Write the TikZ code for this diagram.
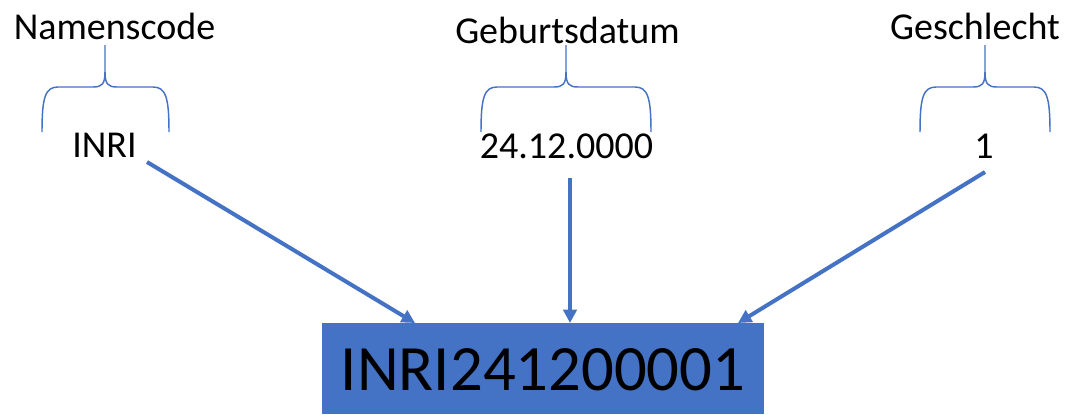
\documentclass[tikz,border=0pt]{standalone}
\usepackage{fontspec}
\setmainfont{Carlito}
\usetikzlibrary{arrows.meta}
\definecolor{accent}{HTML}{4472C4}
\tikzset{
  lbl/.style={anchor=base, inner sep=0pt, font=\fontsize{28.5}{30}\selectfont},
  brc/.style={draw=accent, line width=1.1pt},
  arr/.style={draw=accent, line width=3pt, -{Triangle[length=10pt,width=10pt]}},
  idbox/.style={fill=accent, inner sep=0pt, minimum width=442*0.75pt, minimum height=91*0.75pt}
}
\newcommand\drawbrc[3]{%
  \draw[brc] (#1,132) .. controls (#1,98) and (#1+3,87) .. (#1+16,87) -- (#2-12,87) .. controls (#2-3,87) and (#2,84) .. (#2,72) -- (#2,45);
  \draw[brc] (#3,132) .. controls (#3,98) and (#3-3,87) .. (#3-16,87) -- (#2+12,87) .. controls (#2+3,87) and (#2,84) .. (#2,72);
}
\begin{document}
\begin{tikzpicture}[x=0.75pt,y=-0.75pt]
\useasboundingbox (0,0) rectangle (1067,414);
% headings
\node[lbl] (h1) at (114.5,39) {Namenscode};
\node[lbl] (h2) at (567.5,43) {Geburtsdatum};
\node[lbl] (h3) at (975,39) {Geschlecht};
% braces
\drawbrc{42}{105}{169}
\drawbrc{481}{566}{651}
\drawbrc{920}{985}{1050}
% values
\node[lbl] (v1) at (104.5,157) {INRI};
\node[lbl] (v2) at (566.5,158) {24.12.0000};
\node[lbl] (v3) at (984,158) {1};
% result box
\node[idbox, anchor=north west] (box) at (322,323) {};
\node[anchor=base, inner sep=0pt, font=\fontsize{48.5}{50}\selectfont] (id) at (543,390) {INRI241200001};
% connectors
\coordinate (s1) at (147,162);
\coordinate (s2) at (570,178);
\coordinate (s3) at (985,172);
\coordinate (e1) at (415,323);
\coordinate (e2) at (570,323);
\coordinate (e3) at (738,323);
\draw[arr] (s1) -- (e1);
\draw[arr] (s2) -- (e2);
\draw[arr] (s3) -- (e3);
\end{tikzpicture}
\end{document}
